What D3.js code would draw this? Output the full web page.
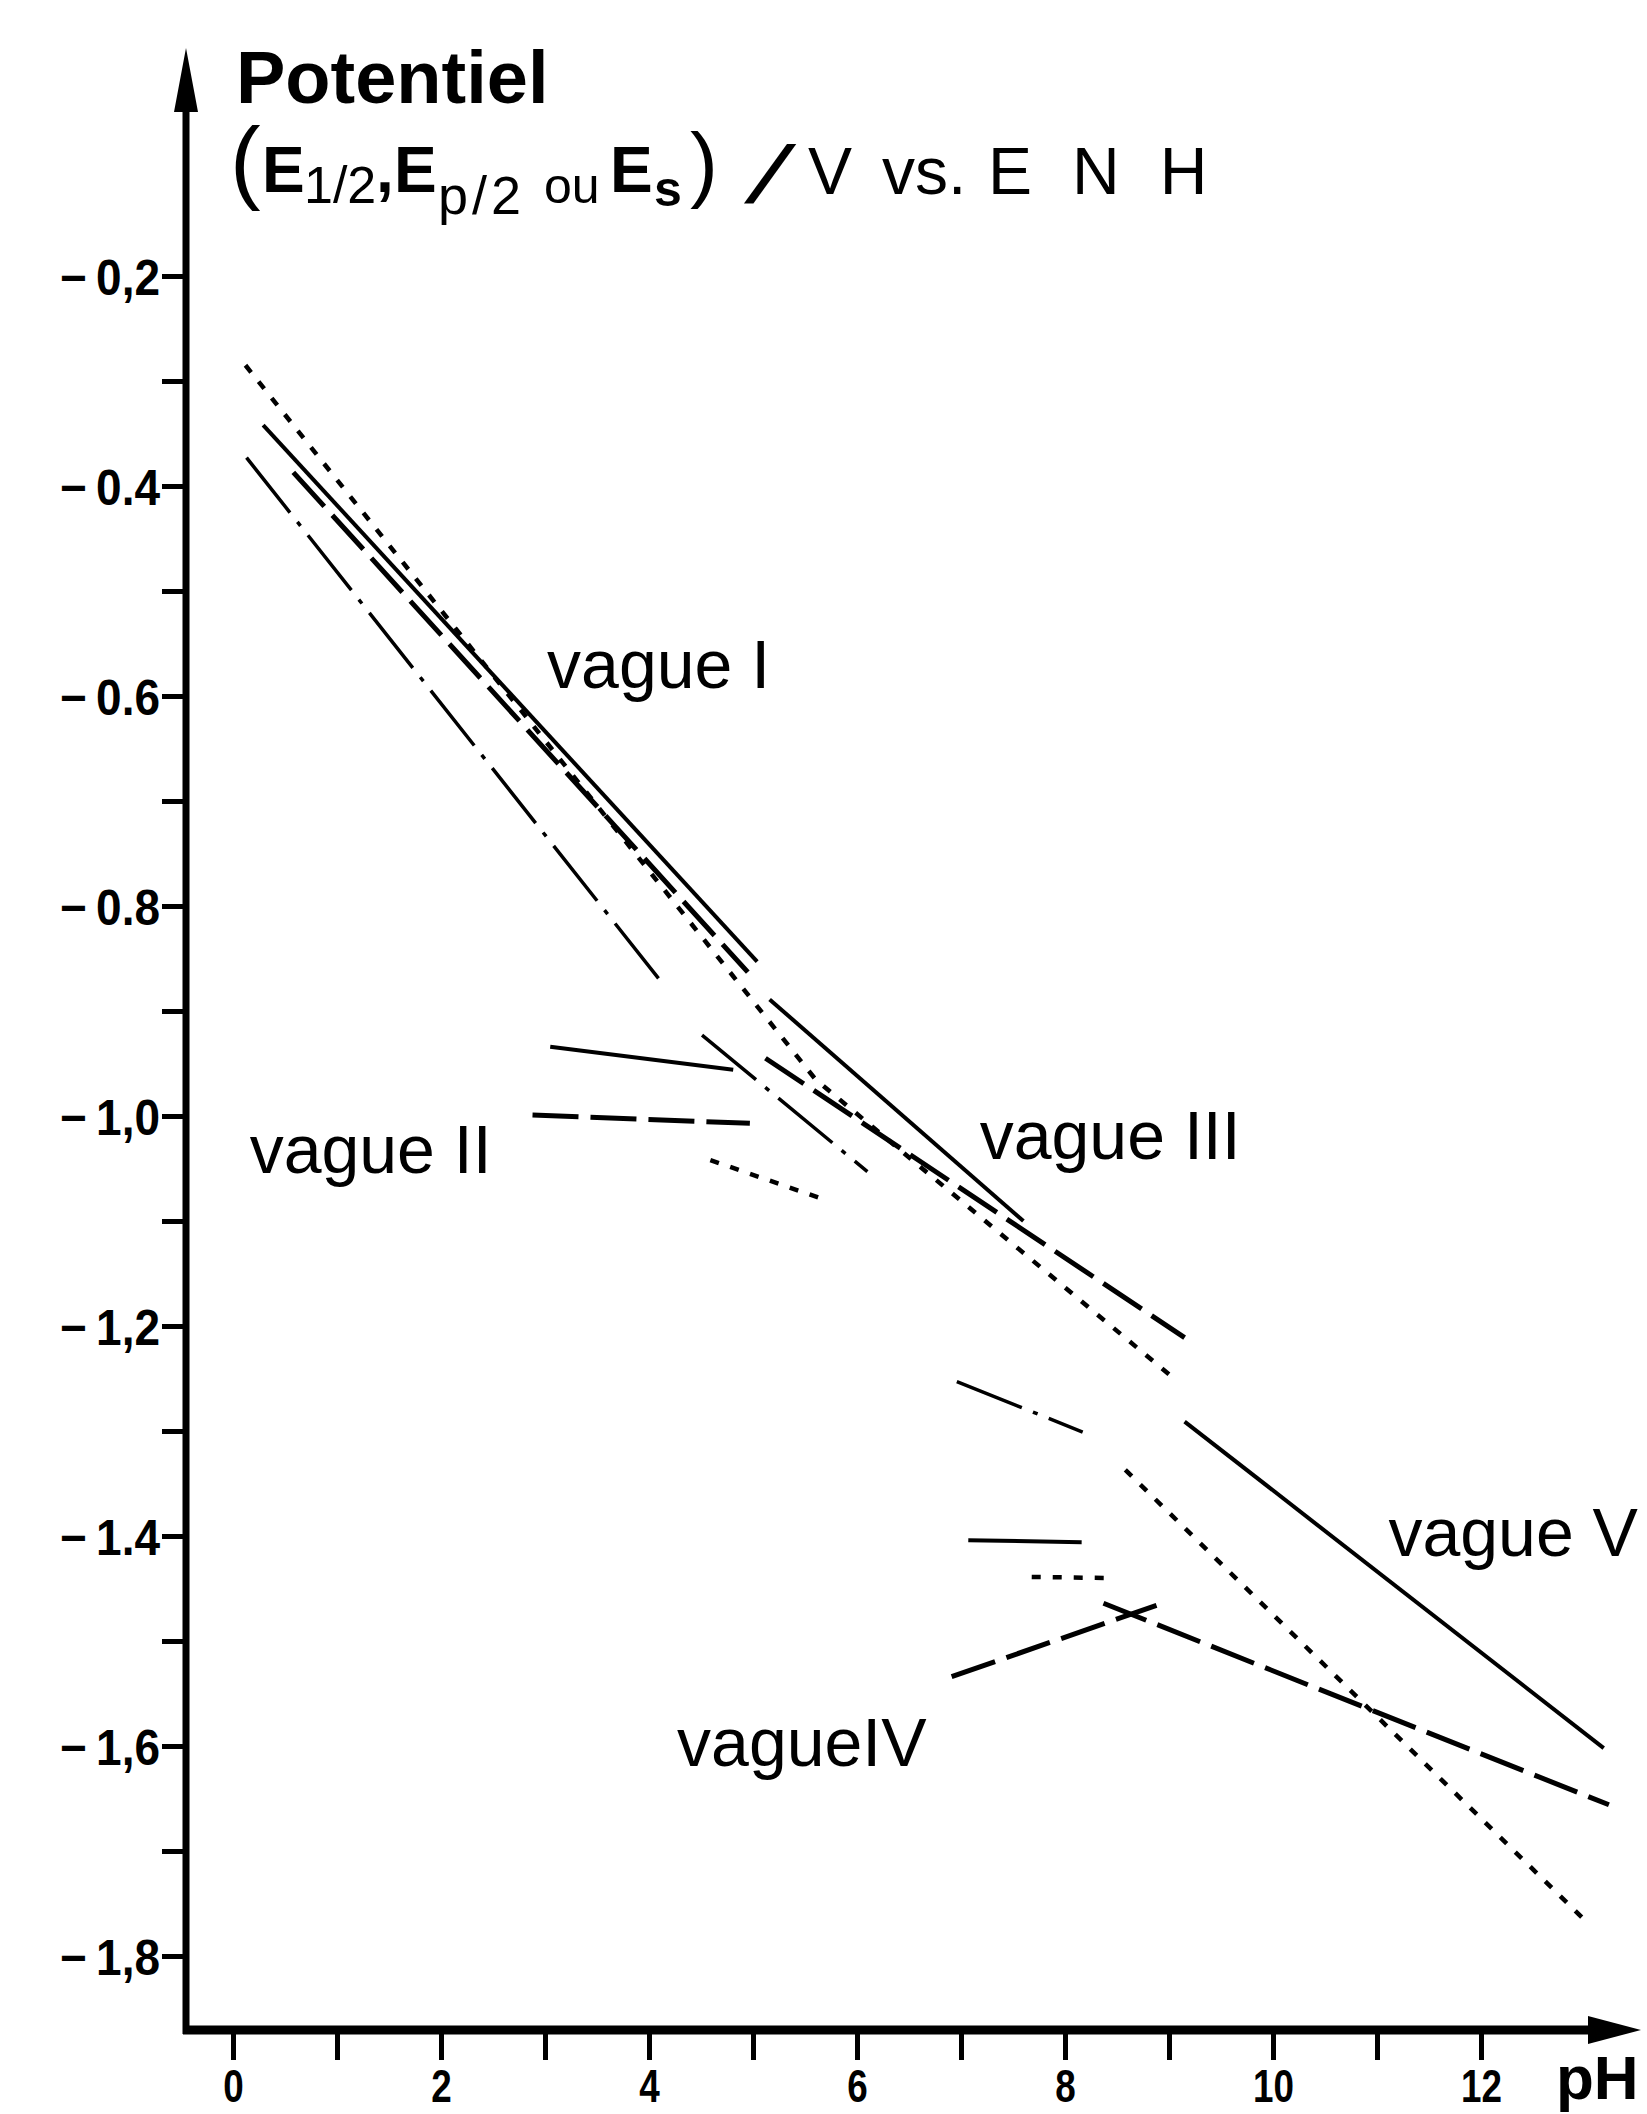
<!DOCTYPE html>
<html><head><meta charset="utf-8">
<script src="https://cdn.jsdelivr.net/npm/d3@7"></script>
<style>
html,body{margin:0;padding:0;background:#fff;}
svg{display:block;}
text{font-family:"Liberation Sans",Arial,Helvetica,sans-serif;fill:#000;}
</style></head><body>
<svg id="chart" width="1647" height="2114"></svg>
<script>
// ---------- data ----------
const xTickValues = [0,1,2,3,4,5,6,7,8,9,10,11,12];
const xTickLabels = ["0","","2","","4","","6","","8","","10","","12"];
const yTickValues = [-0.2,-0.3,-0.4,-0.5,-0.6,-0.7,-0.8,-0.9,-1.0,-1.1,-1.2,-1.3,-1.4,-1.5,-1.6,-1.7,-1.8];
const yTickLabels = ["\u2212\u20090,2","","\u2212\u20090.4","","\u2212\u20090.6","","\u2212\u20090.8","","\u2212\u20091,0","","\u2212\u20091,2","","\u2212\u20091.4","","\u2212\u20091,6","","\u2212\u20091,8"];

// vague I
const vagueI_solid     = [[0.29,-0.342],[5.04,-0.853]];
const vagueI_longDash  = [[0.58,-0.387],[4.95,-0.863]];
const vagueI_dashDot   = [[0.13,-0.373],[4.10,-0.870]];
const vagueI_III_dotted= [[0.12,-0.285],[5.60,-0.965],[9.06,-1.251]];
// vague II
const vagueII_solid    = [[3.05,-0.934],[4.81,-0.956]];
const vagueII_longDash = [[2.88,-0.999],[4.97,-1.007]];
const vagueII_dotted   = [[4.59,-1.042],[5.64,-1.078]];
// vague III
const vagueIII_solid    = [[5.16,-0.889],[7.60,-1.100]];
const vagueIII_longDash = [[5.12,-0.945],[9.15,-1.211]];
const vagueIII_dashDot  = [[4.51,-0.923],[6.10,-1.053]];
// vague IV
const vagueIV_dashDot  = [[6.96,-1.253],[8.17,-1.301]];
const vagueIV_solid    = [[7.07,-1.404],[8.16,-1.406]];
const vagueIV_dotted   = [[7.68,-1.439],[8.41,-1.440]];
const vagueIV_longDash = [[6.91,-1.534],[8.88,-1.466]];
// vague V
const vagueV_solid     = [[9.15,-1.291],[13.18,-1.602]];
const vagueV_longDash  = [[8.37,-1.464],[13.23,-1.656]];
const vagueV_dotted    = [[8.58,-1.337],[13.02,-1.768]];

const waveLabels   = ["vague I","vague II","vague III","vagueIV","vague V"];
const waveLabelPos = [[3.02,-0.592],[0.16,-1.054],[7.18,-1.041],[4.27,-1.619],[11.11,-1.419]];

// ---------- styles ----------
const styles = {
  solid:    {w:4,   dash:null},
  longDash: {w:5,   dash:"46 12"},
  dashDot:  {w:3.5, dash:"70 12 5 12"},
  dotted:   {w:4.5, dash:"9 12"}
};
const segments = [
  [vagueI_solid,"solid"],[vagueI_longDash,"longDash"],[vagueI_dashDot,"dashDot"],[vagueI_III_dotted,"dotted"],
  [vagueII_solid,"solid"],[vagueII_longDash,"longDash"],[vagueII_dotted,"dotted"],
  [vagueIII_solid,"solid"],[vagueIII_longDash,"longDash"],[vagueIII_dashDot,"dashDot"],
  [vagueIV_dashDot,"dashDot"],[vagueIV_solid,"solid"],[vagueIV_dotted,"dotted"],[vagueIV_longDash,"longDash"],
  [vagueV_solid,"solid"],[vagueV_longDash,"longDash"],[vagueV_dotted,"dotted"]
];

// ---------- layout ----------
const svg = d3.select("#chart");
const x = d3.scaleLinear().domain([0,12]).range([233,1481]);
const y = d3.scaleLinear().domain([-0.2,-1.8]).range([276,1956]);
const axisX = 186, axisY = 2030;

// axes lines
svg.append("line").attr("x1",axisX).attr("x2",axisX).attr("y1",axisY+4).attr("y2",100)
  .attr("stroke","#000").attr("stroke-width",7);
svg.append("path").attr("d",`M${axisX},48 L${axisX-12},112 L${axisX+12},112 Z`).attr("fill","#000");
svg.append("line").attr("x1",axisX-3).attr("x2",1600).attr("y1",axisY).attr("y2",axisY)
  .attr("stroke","#000").attr("stroke-width",9);
svg.append("path").attr("d",`M1588,${axisY-14} L1641,${axisY} L1588,${axisY+14} Z`).attr("fill","#000");

// x axis ticks
const xa = svg.append("g").attr("transform",`translate(0,${axisY})`)
  .call(d3.axisBottom(x).tickValues(xTickValues).tickSize(30).tickSizeOuter(0)
    .tickFormat((d,i)=>xTickLabels[i]));
xa.select(".domain").remove();
xa.selectAll(".tick line").attr("stroke","#000").attr("stroke-width",5);
xa.selectAll(".tick text").attr("y",72).attr("dy",0)
  .attr("font-size",46).attr("font-weight","bold")
  .attr("font-family","'Liberation Sans',Arial,sans-serif")
  .attr("transform","scale(0.8,1)");

// y axis ticks
const sx = 0.92;
const ya = svg.append("g").attr("transform",`translate(${axisX},0)`)
  .call(d3.axisLeft(y).tickValues(yTickValues).tickSize(24).tickSizeOuter(0)
    .tickFormat((d,i)=>yTickLabels[i]));
ya.select(".domain").remove();
ya.selectAll(".tick line").attr("stroke","#000").attr("stroke-width",5);
ya.selectAll(".tick text").attr("x",-26/sx).attr("dy","0.36em")
  .attr("font-size",50).attr("font-weight","bold")
  .attr("font-family","'Liberation Sans',Arial,sans-serif")
  .attr("transform",`scale(${sx},1)`);

// x label
svg.append("text").attr("x",1556).attr("y",2099).attr("font-size",62).attr("font-weight","bold").text("pH");

// title
svg.append("text").attr("x",236).attr("y",103).attr("font-size",74).attr("font-weight","bold")
  .text("Potentiel");
const l2 = svg.append("text").attr("y",192);
l2.append("tspan").attr("x",230).attr("font-size",92).text("(");
l2.append("tspan").attr("x",262).attr("font-size",64).attr("font-weight","bold").text("E");
l2.append("tspan").attr("x",304).attr("y",203).attr("font-size",52).text("1/2");
l2.append("tspan").attr("x",376).attr("y",192).attr("font-size",64).attr("font-weight","bold").text(",");
l2.append("tspan").attr("x",394).attr("y",192).attr("font-size",64).attr("font-weight","bold").text("E");
l2.append("tspan").attr("x",438).attr("y",214).attr("font-size",54).attr("letter-spacing",4).text("p/2");
l2.append("tspan").attr("x",544).attr("y",203).attr("font-size",50).text("ou");
l2.append("tspan").attr("x",610).attr("y",192).attr("font-size",64).attr("font-weight","bold").text("E");
l2.append("tspan").attr("x",654).attr("y",206).attr("font-size",50).attr("font-weight","bold").text("s");
l2.append("tspan").attr("x",690).attr("y",192).attr("font-size",84).text(")");
svg.append("text").attr("transform","translate(744,202) skewX(-28)").attr("font-size",80)
  .attr("font-weight","bold").text("/");
const l3 = svg.append("text").attr("y",194).attr("font-size",66);
l3.append("tspan").attr("x",808).text("V");
l3.append("tspan").attr("x",882).text("vs.");
l3.append("tspan").attr("x",988).attr("letter-spacing",40).text("ENH");

// lines
const line = d3.line().x(d=>x(d[0])).y(d=>y(d[1]));
svg.append("g").selectAll("path").data(segments).join("path")
  .attr("d",d=>line(d[0]))
  .attr("fill","none").attr("stroke","#000")
  .attr("stroke-width",d=>styles[d[1]].w)
  .attr("stroke-dasharray",d=>styles[d[1]].dash)
  .attr("stroke-linecap","butt");

// wave labels
svg.append("g").selectAll("text").data(waveLabels).join("text")
  .attr("x",(d,i)=>x(waveLabelPos[i][0]))
  .attr("y",(d,i)=>y(waveLabelPos[i][1]))
  .attr("font-size",68)
  .text(d=>d);
</script>
</body></html>
